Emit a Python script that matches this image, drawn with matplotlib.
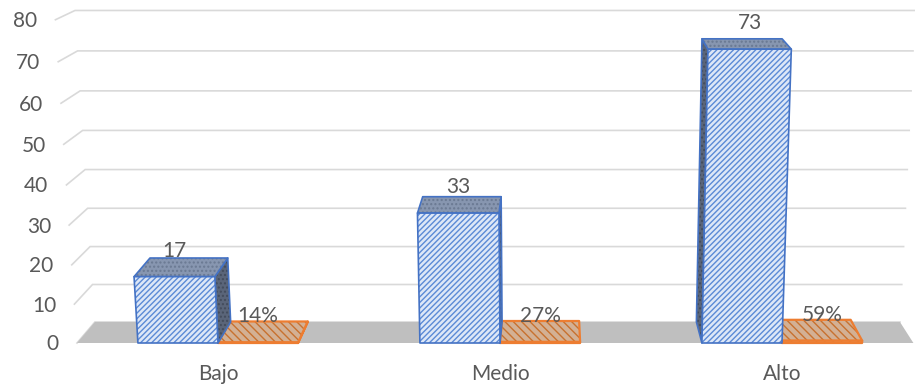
import math

import matplotlib
matplotlib.use("Agg")
import matplotlib.pyplot as plt
from matplotlib.patches import Polygon

categories = ["Bajo", "Medio", "Alto"]
counts = [17, 33, 73]
percents = [14, 27, 59]
y_ticks = [0, 10, 20, 30, 40, 50, 60, 70, 80]

# --- fake 3D camera (Excel style perspective column chart) ---
F = 1705.0                # focal length, px
TILT = math.atan(0.2327)  # camera looks down a bit
CX, CY = 555.0, 180.0     # principal point, px
FLOOR_PY = 343.0          # where the front edge of the floor lands
SIN, COS = math.sin(TILT), math.cos(TILT)
CAM_Y = (FLOOR_PY - CY) * COS + F * SIN
CAM_Z = (FLOOR_PY - CY) * SIN - F * COS

X0, SLOT = 218.0, 282.0   # world x of first category, spacing
KY = 4.06                 # world units per value unit
KZ = 68.2                 # depth of the bars / floor
BAR_W = 0.284             # bar width in category units
U_LEFT, U_RIGHT = -0.5, 2.466

TEXT = "#595959"
FONT = ["Lato", "DejaVu Sans"]


def to_screen(u, v, d):
    qx = X0 + SLOT * u - CX
    qy = v * KY - CAM_Y
    qz = d * KZ - CAM_Z
    yc = COS * qy + SIN * qz
    zc = -SIN * qy + COS * qz
    return CX + F * qx / zc, CY - F * yc / zc


def face(ax, corners, fc, hatch, hc, ec, lw, z):
    pts = [to_screen(*c) for c in corners]
    ax.add_patch(Polygon(pts, closed=True, facecolor=fc, edgecolor="none", zorder=z))
    if hatch:
        ax.add_patch(Polygon(pts, closed=True, facecolor="none", edgecolor=hc,
                             hatch=hatch, lw=0, zorder=z))
    if ec:
        ax.add_patch(Polygon(pts, closed=True, facecolor="none", edgecolor=ec,
                             lw=lw, joinstyle="round", zorder=z))


def box(ax, u0, u1, v, st, z):
    front = [(u0, 0, 0), (u1, 0, 0), (u1, v, 0), (u0, v, 0)]
    top = [(u0, v, 0), (u1, v, 0), (u1, v, 1), (u0, v, 1)]
    if X0 + SLOT * u1 < CX:
        side = [(u1, 0, 0), (u1, 0, 1), (u1, v, 1), (u1, v, 0)]
    else:
        side = [(u0, 0, 0), (u0, 0, 1), (u0, v, 1), (u0, v, 0)]
    face(ax, side, st["side"], st["side_p"], st["side_h"], st["edge"], st["lw"], z)
    face(ax, top, st["top"], st["top_p"], st["top_h"], st["edge"], st["lw"], z)
    face(ax, front, st["front"], st["front_p"], st["front_h"], st["edge"], st["lw"], z)


blue = dict(front="#dde7f7", front_h="#5b8ad6", front_p="//////",
            top="#8796b0", top_h="#6a7992", top_p="....",
            side="#5a6579", side_h="#434c5c", side_p="....",
            edge="#4472c4", lw=1.2)
orange = dict(front="#d3b094", front_h="#c8712f", front_p="\\\\\\\\",
              top="#d3b094", top_h="#c8712f", top_p="\\\\\\\\",
              side="#b98a66", side_h="#c8712f", side_p=None,
              edge="#ed7d31", lw=1.6)

plt.rcParams["hatch.linewidth"] = 1.0
fig = plt.figure(figsize=(9.15, 3.87), dpi=100)
ax = fig.add_axes([0, 0, 1, 1])
ax.set_xlim(0, 915)
ax.set_ylim(387, 0)
ax.axis("off")

# gridlines on side + back wall
for v in y_ticks:
    pts = [to_screen(U_LEFT, v, 0), to_screen(U_LEFT, v, 1), to_screen(U_RIGHT, v, 1)]
    ax.plot([p[0] for p in pts], [p[1] for p in pts], color="#d9d9d9", lw=1.2,
            solid_joinstyle="miter", zorder=1)
    px, py = to_screen(U_LEFT, v, 0)
    ax.annotate(str(v), (px, py), xytext=(-13, -5.4), textcoords="offset points",
                ha="right", va="baseline", fontsize=15, color=TEXT, family=FONT)

# floor
face(ax, [(U_LEFT, 0, 0), (U_RIGHT, 0, 0), (U_RIGHT, 0, 1), (U_LEFT, 0, 1)],
     "#bfbfbf", None, None, None, 0, 2)

for i, (cat, n, pct) in enumerate(zip(categories, counts, percents)):
    box(ax, i, i + BAR_W, pct / 100, orange, 3)
    box(ax, i - BAR_W, i, n, blue, 4)

    px, py = to_screen(i - BAR_W / 2, n, 0)
    ax.annotate(str(n), (px, py), xytext=(0, 14.4), textcoords="offset points",
                ha="center", va="baseline", fontsize=15, color=TEXT, family=FONT, zorder=10)
    px, py = to_screen(i + BAR_W / 2, pct / 100, 0)
    ax.annotate(f"{pct}%", (px, py), xytext=(0, 14.4), textcoords="offset points",
                ha="center", va="baseline", fontsize=15, color=TEXT, family=FONT, zorder=10)
    px, py = to_screen(i, 0, 0)
    ax.annotate(cat, (px, py), xytext=(0, -26.6), textcoords="offset points",
                ha="center", va="baseline", fontsize=15, color=TEXT, family=FONT)

fig.savefig("out.png", dpi=100)
